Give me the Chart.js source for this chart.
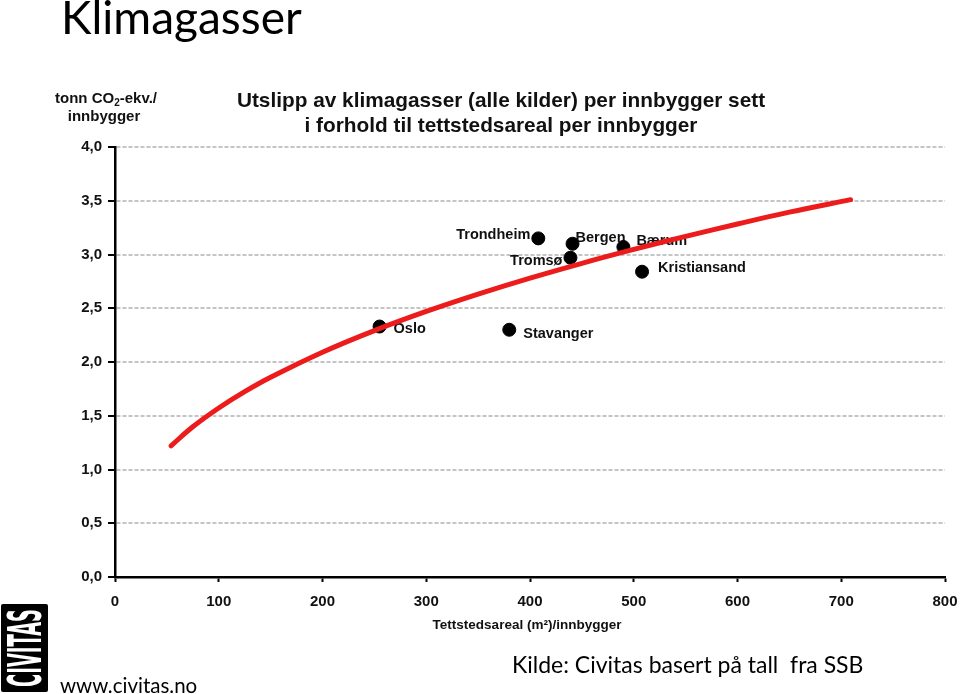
<!DOCTYPE html>
<html>
<head>
<meta charset="utf-8">
<script src="https://cdn.jsdelivr.net/npm/chart.js@4.4.1/dist/chart.umd.min.js"></script>
<style>
  body { margin: 0; background: #fff; }
  #wrap { position: absolute; left: 0; top: 0; width: 960px; height: 694px; }
  .slide { position: absolute; font-family: Lato, "Open Sans", sans-serif; color: #000; white-space: pre; line-height: 1; }
  #logo { position: absolute; left: 1px; top: 604px; width: 47px; height: 88px; background: #000; border-radius: 2px; overflow: hidden; }
  #logo span { position: absolute; left: 50%; top: 50%; color: #fff; font-family: "DejaVu Sans Condensed", "DejaVu Sans", sans-serif; font-weight: bold; font-size: 46px; line-height: 1; white-space: nowrap; }
</style>
</head>
<body>
<div id="wrap"><canvas id="klima"></canvas></div>
<div class="slide" style="left:61px; top:-6px; font-size:46px;">Klimagasser</div>
<div id="logo"><span id="logotekst">CIVITAS</span></div>
<div class="slide" style="left:60px; top:675px; font-size:20.5px;">www.civitas.no</div>
<div class="slide" style="left:512px; top:653px; font-size:23px;">Kilde: Civitas basert på tall  fra SSB</div>

<script>
// byer (punkter)
const cityNames = ["Trondheim", "Bergen", "Bærum", "Tromsø", "Kristiansand", "Oslo", "Stavanger"];
const cityArea = [408, 441, 490, 439, 508, 255, 380];
const cityUtslipp = [3.15, 3.10, 3.07, 2.97, 2.84, 2.33, 2.30];

// trendlinje lest av bildet
const trendArea = [54, 75, 100, 125, 150, 200, 250, 300, 350, 400, 450, 500, 550, 600, 650, 709];
const trendUtslipp = [1.22, 1.397, 1.572, 1.724, 1.858, 2.091, 2.292, 2.47, 2.631, 2.78, 2.918, 3.047, 3.169, 3.284, 3.394, 3.51];

const titleLines = ["Utslipp av klimagasser (alle kilder) per innbygger sett", "i forhold til tettstedsareal per innbygger"];
const xTitle = "Tettstedsareal (m²)/innbygger";

// label offset (px) for hver by, [dx, dy, align]
const labelPos = [[-8, -3, "right"], [3, -6, "left"], [13, -6, "left"], [-8, 3, "right"],
                  [16, -4, "left"], [14, 2, "left"], [14, 4, "left"]];

const FONT = '"Liberation Sans", Arial, sans-serif';

const tekster = {
    id: 'tekster',
    beforeDatasetsDraw: function(chart) {
        const ctx = chart.ctx;
        const xs = chart.scales.x, ys = chart.scales.y;
        ctx.save();
        ctx.font = 'bold 14.5px ' + FONT;
        ctx.fillStyle = '#111';
        ctx.textBaseline = 'middle';
        cityNames.forEach(function(name, i) {
            const px = xs.getPixelForValue(cityArea[i]);
            const py = ys.getPixelForValue(cityUtslipp[i]);
            ctx.textAlign = labelPos[i][2];
            ctx.fillText(name, px + labelPos[i][0], py + labelPos[i][1]);
        });
        ctx.restore();
    },
    afterDraw: function(chart) {
        const ctx = chart.ctx;
        ctx.save();
        ctx.fillStyle = '#111';
        ctx.textBaseline = 'middle';
        ctx.textAlign = 'center';
        // tittel
        ctx.font = 'bold 20.8px ' + FONT;
        ctx.fillText(titleLines[0], 501, 101);
        ctx.fillText(titleLines[1], 501, 126);
        // x-akse tittel
        ctx.font = 'bold 13.5px ' + FONT;
        ctx.fillText(xTitle, 527, 625);
        // enhet y-akse: tonn CO2-ekv./
        ctx.font = 'bold 15px ' + FONT;
        const a = 'tonn CO', b = '2', c = '-ekv./';
        const wa = ctx.measureText(a).width, wc = ctx.measureText(c).width;
        ctx.font = 'bold 10px ' + FONT;
        const wb = ctx.measureText(b).width;
        let x0 = 106 - (wa + wb + wc) / 2;
        ctx.textAlign = 'left';
        ctx.font = 'bold 15px ' + FONT;
        ctx.fillText(a, x0, 99);
        ctx.font = 'bold 10px ' + FONT;
        ctx.fillText(b, x0 + wa, 103);
        ctx.font = 'bold 15px ' + FONT;
        ctx.fillText(c, x0 + wa + wb, 99);
        ctx.textAlign = 'center';
        ctx.fillText('innbygger', 104, 117);
        ctx.restore();
    }
};

new Chart(document.getElementById("klima"), {
    type: 'scatter',
    data: {
        datasets: [{
            // trendlinja ligger over punktene
            type: 'line',
            data: trendArea.map(function(v, i) { return {x: v, y: trendUtslipp[i]}; }),
            borderColor: '#ec1c1c',
            borderWidth: 5,
            borderCapStyle: 'round',
            pointRadius: 0,
            fill: false,
            tension: 0.4
        }, {
            data: cityArea.map(function(v, i) { return {x: v, y: cityUtslipp[i]}; }),
            backgroundColor: '#000',
            borderColor: '#000',
            pointRadius: 6.5,
            pointHoverRadius: 6.5
        }]
    },
    options: {
        responsive: true,
        maintainAspectRatio: false,
        animation: false,
        events: [],
        layout: { padding: { left: 0, right: 15, top: 147, bottom: 0 } },
        plugins: { legend: { display: false }, tooltip: { enabled: false } },
        scales: {
            x: {
                type: 'linear',
                min: 0, max: 800,
                afterFit: function(scale) { scale.height = 117; scale.paddingRight = 14; },
                ticks: {
                    stepSize: 100,
                    padding: 11,
                    color: '#111',
                    font: { family: FONT, size: 15, weight: 'bold' }
                },
                grid: { drawOnChartArea: false, tickLength: 5, tickColor: '#000', tickWidth: 2 },
                border: { color: '#000', width: 2.5 }
            },
            y: {
                min: 0, max: 4,
                afterFit: function(scale) { scale.width = 115; },
                ticks: {
                    stepSize: 0.5,
                    padding: 6,
                    color: '#111',
                    font: { family: FONT, size: 15, weight: 'bold' },
                    callback: function(v) { return v.toFixed(1).replace('.', ','); }
                },
                grid: { color: '#c4c4c4', lineWidth: 2, tickLength: 7, tickColor: '#000', tickWidth: 2, tickBorderDash: [] },
                border: { color: '#000', width: 2.5, dash: [4, 2] }
            }
        }
    },
    plugins: [tekster]
});

// logo: skaler teksten inn i boksen
const lt = document.getElementById('logotekst');
const k = 78 / lt.offsetWidth;
lt.style.transform = 'translate(-50%, -50%) rotate(-90deg) scaleX(' + k + ')';
</script>
</body>
</html>
